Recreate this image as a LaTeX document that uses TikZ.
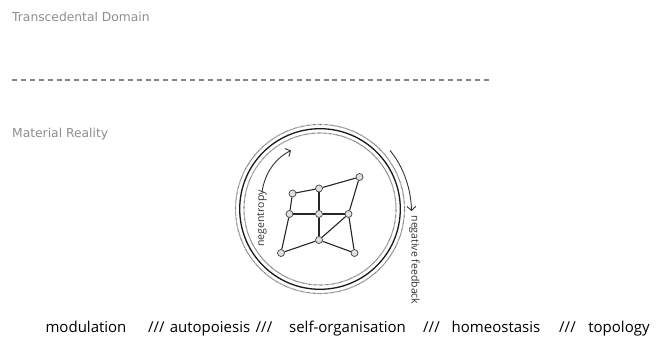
\documentclass[tikz,border=0pt]{standalone}
\usepackage{fontspec}
\setmainfont{Open Sans}
\newfontfamily\labelfont{DejaVu Sans}
\usetikzlibrary{arrows.meta}
\definecolor{labelgray}{HTML}{8E8E8E}
\definecolor{dashgray}{HTML}{858585}
\definecolor{ringgray}{HTML}{6E6E6E}
\begin{document}
\begin{tikzpicture}[x=1pt,y=-1pt,
  realmlabel/.style={font=\labelfont\fontsize{12.3}{14}\selectfont, text=labelgray, anchor=base west, inner sep=0pt},
  keyword/.style={font=\fontsize{15}{18}\selectfont, anchor=base, inner sep=0pt},
  vertex/.style={circle, draw=black!75, fill=black!12, line width=0.7pt, minimum size=7pt, inner sep=0pt},
  link/.style={line width=1.1pt, draw=black!85},
  flowarrow/.style={line width=0.9pt, draw=black!80, -{Straight Barb[length=4pt,width=9pt]}},
  flowlabel/.style={font=\fontsize{10.5}{12}\selectfont, text=black!80, inner sep=0pt},
  dotring/.style={draw=ringgray, line width=1.1pt, dash pattern=on 0.6pt off 0.6pt},
  solidring/.style={draw=black!90, line width=1.3pt}]

  % page frame
  \useasboundingbox[fill=white] (0,0) rectangle (656,344);

  % realm labels and the boundary between them
  \node[realmlabel] (transcendental) at (12,21.5) {Transcedental Domain};
  \node[realmlabel] (material) at (12,137.5) {Material Reality};
  \coordinate (divL) at (12,80);
  \coordinate (divR) at (491,80);
  \draw[draw=dashgray, line width=1.3pt, dash pattern=on 5pt off 3.9pt] (divL) -- (divR);

  % the enclosing membrane: three concentric rings
  \coordinate (hub) at (320,209);
  \draw[dotring] (hub) circle[radius=84.5];
  \draw[solidring] (hub) circle[radius=80.3];
  \draw[dotring] (hub) circle[radius=76];

  % internal network
  \node[vertex] (tl) at (292.5,193.5) {};
  \node[vertex] (tm) at (319,188.5) {};
  \node[vertex] (tr) at (359.5,177) {};
  \node[vertex] (ml) at (289.5,214) {};
  \node[vertex] (mc) at (319,214) {};
  \node[vertex] (mr) at (348.5,214) {};
  \node[vertex] (bm) at (319,240) {};
  \node[vertex] (bl) at (281,253) {};
  \node[vertex] (br) at (354.5,253) {};

  \draw[link] (tl) -- (tm);
  \draw[link] (tm) -- (tr);
  \draw[link] (tl) -- (ml);
  \draw[link] (tm) -- (mc);
  \draw[link] (tr) -- (mr);
  \draw[link] (ml) -- (mc);
  \draw[link] (mc) -- (mr);
  \draw[link] (mc) -- (bm);
  \draw[link] (ml) -- (bl);
  \draw[link] (bl) -- (bm);
  \draw[link] (bm) -- (mr);
  \draw[link] (bm) -- (br);
  \draw[link] (mr) -- (br);

  % negentropy flow (inside, rising)
  \coordinate (negS) at (262,192);
  \coordinate (negE) at (291,150.5);
  \draw[flowarrow] (negS) .. controls (265,172) and (276,158) .. (negE);
  \node[flowlabel, rotate=90] (negentropy) at (262,218.5) {negentropy};

  % negative feedback flow (outside, descending)
  \coordinate (fbS) at (390,150.5);
  \coordinate (fbE) at (411.5,211);
  \draw[flowarrow] (fbS) .. controls (403,166) and (411,188) .. (fbE);
  \node[flowlabel, rotate=-90] (feedback) at (414.5,260) {negative feedback};

  % bottom row of concepts
  \node[keyword] (k1) at (86,333) {modulation};
  \node[keyword] (s1) at (156.5,333) {///};
  \node[keyword] (k2) at (210,333) {autopoiesis};
  \node[keyword] (s2) at (264,333) {///};
  \node[keyword] (k3) at (347.5,333) {self-organisation};
  \node[keyword] (s3) at (431.5,333) {///};
  \node[keyword] (k4) at (496,333) {homeostasis};
  \node[keyword] (s4) at (567.5,333) {///};
  \node[keyword] (k5) at (619,333) {topology};
\end{tikzpicture}
\end{document}
